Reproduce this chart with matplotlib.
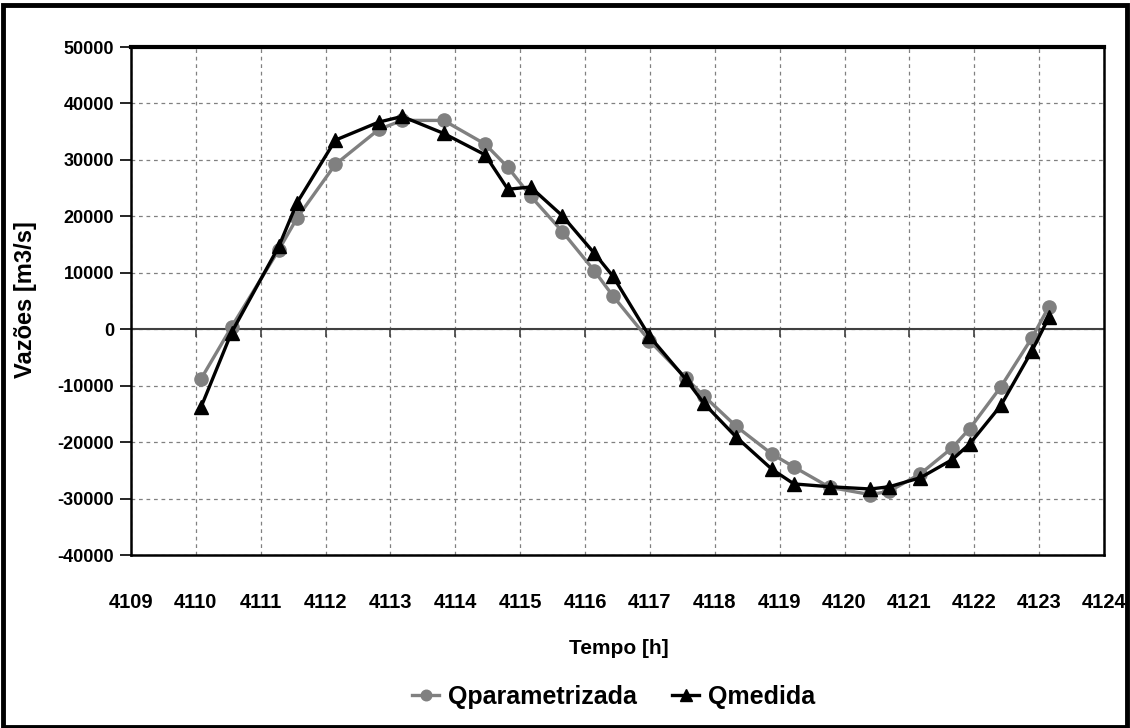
import matplotlib.pyplot as plt
from matplotlib.patches import Rectangle

# tempo [h] e vazoes [m3/s]
tempo = [4110.08, 4110.55, 4111.28, 4111.56, 4112.15, 4112.82, 4113.18, 4113.82,
         4114.46, 4114.81, 4115.16, 4115.65, 4116.14, 4116.43, 4116.99, 4117.55,
         4117.83, 4118.33, 4118.88, 4119.22, 4119.77, 4120.40, 4120.69, 4121.17,
         4121.66, 4121.93, 4122.41, 4122.89, 4123.15]

q_parametrizada = [-8800, 400, 14100, 19700, 29200, 35400, 37000, 37000,
                   32800, 28700, 23600, 17300, 10400, 5900, -2000, -8600,
                   -11800, -17200, -22100, -24400, -28000, -29300, -28700, -25600,
                   -21000, -17600, -10200, -1500, 4000]

q_medida = [-13800, -600, 14700, 22400, 33500, 36700, 37700, 34700,
            30900, 24800, 25200, 20100, 13500, 9400, -1200, -8800,
            -13100, -19100, -24800, -27400, -27900, -28300, -27900, -26300,
            -23100, -20300, -13500, -3800, 2100]

x_ticks = list(range(4109, 4125))
y_ticks = list(range(-40000, 50001, 10000))

fonte = ['Liberation Sans', 'DejaVu Sans']

fig = plt.figure(figsize=(11.3, 7.28), dpi=100)
ax = fig.add_axes([0.1159, 0.2376, 0.8611, 0.6978])

ax.plot(tempo, q_parametrizada, color='#808080', lw=2.4, marker='o', ms=9.5,
        label='Qparametrizada', zorder=3)
ax.plot(tempo, q_medida, color='black', lw=2.4, marker='^', ms=10,
        label='Qmedida', zorder=4)

ax.set_xlim(4109, 4124)
ax.set_ylim(-40000, 50000)
ax.set_xticks(x_ticks)
ax.set_yticks(y_ticks)
ax.set_xticklabels([str(t) for t in x_ticks], fontfamily=fonte,
                   fontweight='bold', fontsize=14.5)
ax.set_yticklabels([str(v) for v in y_ticks], fontfamily=fonte,
                   fontweight='bold', fontsize=13)
ax.tick_params(axis='x', length=0, pad=27)
ax.tick_params(axis='y', direction='out', length=8, width=1.2, pad=4)

ax.grid(True, color='#808080', lw=0.9, linestyle=(0, (3, 3)))
ax.set_axisbelow(True)

# eixo das abscissas cruzando em zero
ax.axhline(0, color='#404040', lw=1.5, zorder=2)
ax.plot(x_ticks[1:-1], [0] * len(x_ticks[1:-1]), ls='none', marker=3,
        ms=6, mew=1.2, color='#404040', zorder=2)

for side in ['left', 'right', 'bottom']:
    ax.spines[side].set_linewidth(1.8)
    ax.spines[side].set_color('black')
ax.spines['top'].set_linewidth(3)
ax.spines['top'].set_color('black')

fig.text(0.548, 1 - 648 / 728, 'Tempo [h]', ha='center', va='center',
         fontfamily=fonte, fontweight='bold', fontsize=15)
fig.text(0.023, 1 - 300 / 728, 'Vazões [m3/s]', rotation=90, ha='center',
         va='center', fontfamily=fonte, fontweight='bold', fontsize=17)

leg = fig.legend(loc='center', bbox_to_anchor=(0.543, 1 - 697 / 728), ncol=2,
                 frameon=False, handlelength=1.1, handletextpad=0.35,
                 columnspacing=1.4, markerscale=0.8,
                 prop={'family': fonte, 'weight': 'bold', 'size': 18})

fig.patches.append(Rectangle((0.003, 0.002), 0.994, 0.991, transform=fig.transFigure,
                             fill=False, lw=3.5, edgecolor='black'))

fig.savefig('out.png', dpi=100)
